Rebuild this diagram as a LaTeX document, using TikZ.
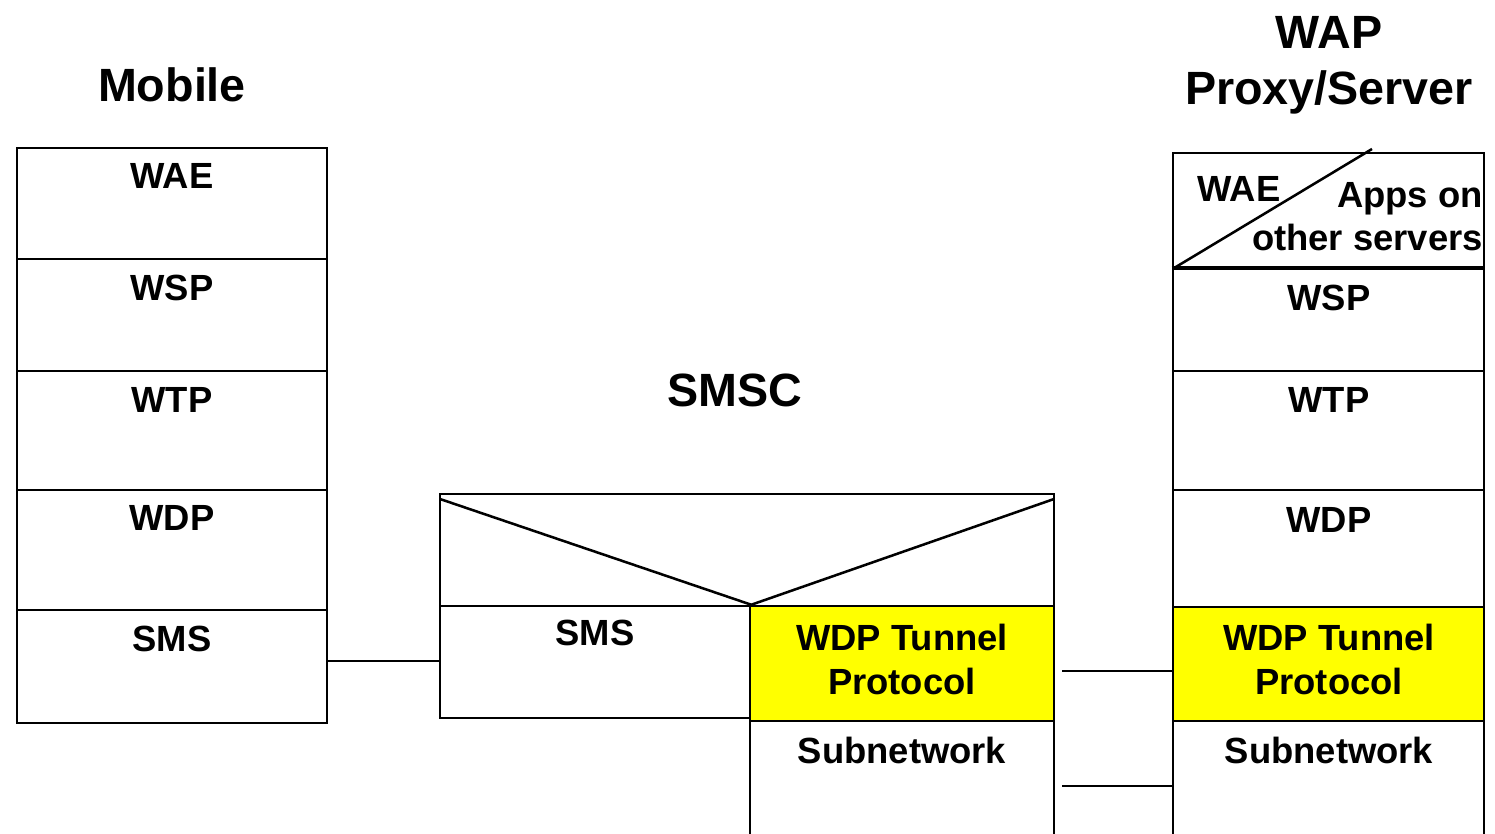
\documentclass[tikz,border=0pt]{standalone}
\usepackage{fontspec}
\setmainfont{Liberation Sans}
\usetikzlibrary{fit}
\definecolor{tunnelyellow}{RGB}{255,255,0}
\begin{document}
\begin{tikzpicture}[x=0.75pt,y=-0.75pt,
  layer/.style={draw, line width=1.9pt, inner sep=0pt},
  tunnel/.style={layer, fill=tunnelyellow},
  lbl/.style={font=\fontsize{27.3}{33}\selectfont\bfseries, anchor=base, inner sep=0pt, align=center},
  ttl/.style={font=\fontsize{35}{42}\selectfont\bfseries, anchor=base, inner sep=0pt},
  link/.style={line width=1.9pt}]
\useasboundingbox (0,0) rectangle (1495,833);
% ---------- Mobile ----------
\node[ttl] (tmob) at (172,101) {Mobile};
\node[layer, fit={(17,148)(327,259)}] (mwae) {};
\node[layer, fit={(17,259)(327,371)}] (mwsp) {};
\node[layer, fit={(17,371)(327,490)}] (mwtp) {};
\node[layer, fit={(17,490)(327,610)}] (mwdp) {};
\node[layer, fit={(17,610)(327,723)}] (msms) {};
\node[lbl] (lmwae) at (172,188) {WAE};
\node[lbl] (lmwsp) at (172,300) {WSP};
\node[lbl] (lmwtp) at (172,412) {WTP};
\node[lbl] (lmwdp) at (172,530) {WDP};
\node[lbl] (lmsms) at (172,651) {SMS};
% ---------- SMSC ----------
\node[ttl] (tsmsc) at (735,406) {SMSC};
\node[layer, fit={(440,494)(1054,606)}] (stop) {};
\node[layer, fit={(440,606)(750,718)}] (ssms) {};
\node[tunnel, fit={(750,606)(1054,721)}] (stun) {};
\node[layer, fit={(750,721)(1054,850)}] (ssub) {};
\coordinate (sl) at (440,499);
\coordinate (sr) at (1054,499);
\draw[link] (sl) -- (ssms.north east) -- (sr);
\node[lbl] (lssms) at (595,645) {SMS};
\node[lbl] (lstun) at (902,694) {WDP Tunnel\\Protocol};
\node[lbl] (lssub) at (902,763) {Subnetwork};
% ---------- WAP Proxy/Server ----------
\node[ttl] (twap1) at (1329,48) {WAP};
\node[ttl] (twap2) at (1329,104) {Proxy/Server};
\node[layer, fit={(1173,153)(1484,267)}] (wtop) {};
\node[layer, fit={(1173,267)(1484,371)}] (wwsp) {};
\node[layer, fit={(1173,371)(1484,490)}] (wwtp) {};
\node[layer, fit={(1173,490)(1484,607)}] (wwdp) {};
\node[tunnel, fit={(1173,607)(1484,721)}] (wtun) {};
\node[layer, fit={(1173,721)(1484,850)}] (wsub) {};
\draw[line width=3.2pt] (wtop.south west) -- (wtop.south east);
\coordinate (wdiag) at (1372,149);
\draw[link] (wtop.south west) ++(2,0) -- (wdiag);
\node[lbl] (lwwae) at (1239,201) {WAE};
\node[lbl, anchor=base east] (lwapps1) at (1483,207) {Apps on};
\node[lbl, anchor=base east] (lwapps2) at (1483,250) {other servers};
\node[lbl] (lwwsp) at (1329,310) {WSP};
\node[lbl] (lwwtp) at (1329,412) {WTP};
\node[lbl] (lwwdp) at (1329,532) {WDP};
\node[lbl] (lwtun) at (1329,694) {WDP Tunnel\\Protocol};
\node[lbl] (lwsub) at (1329,763) {Subnetwork};
% ---------- connectors ----------
\coordinate (c1) at (1062,671);
\coordinate (c2) at (1062,786);
\draw[link] (msms.east |- 0,661) -- (ssms.west |- 0,661);
\draw[link] (c1) -- (wtun.west |- c1);
\draw[link] (c2) -- (wsub.west |- c2);
\end{tikzpicture}
\end{document}
